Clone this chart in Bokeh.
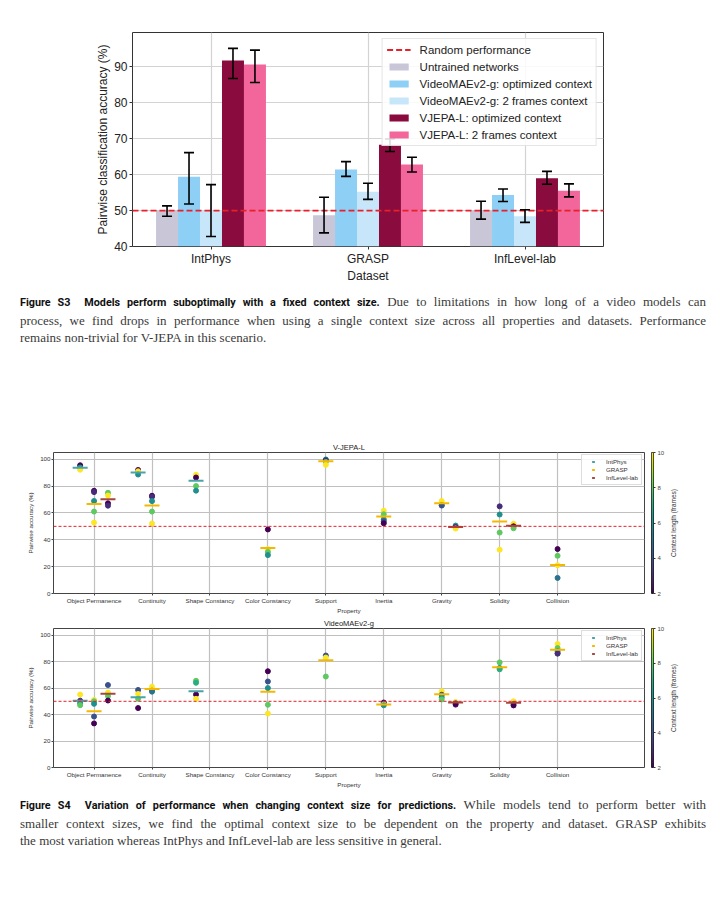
import numpy as np
from bokeh.plotting import figure
from bokeh.models import (ColumnDataSource, Whisker, TeeHead, Span, Legend, LegendItem,
                          FixedTicker, LinearColorMapper, Div, Spacer, Range1d, Title)
from bokeh.layouts import column, row
from bokeh.palettes import Viridis256
from bokeh.transform import linear_cmap
from bokeh.embed import file_html
from bokeh.resources import INLINE

# ---------------- Figure S3 data ----------------
S3_DATASETS = ["IntPhys", "GRASP", "InfLevel-lab"]
S3_SERIES = ["Untrained networks", "VideoMAEv2-g: optimized context",
             "VideoMAEv2-g: 2 frames context", "VJEPA-L: optimized context",
             "VJEPA-L: 2 frames context"]
S3_COLORS = ["#c9c6d8", "#8dcff5", "#c7e6f9", "#8a0b3d", "#f2669b"]
UNTRAINED = [50.0, 48.7, 50.1]
UNTRAINED_LO = [48.4, 43.8, 47.6]
UNTRAINED_HI = [51.3, 53.7, 52.6]
VMAE_OPT = [59.4, 61.4, 54.3]
VMAE_OPT_LO = [51.8, 59.5, 52.5]
VMAE_OPT_HI = [66.1, 63.6, 56.0]
VMAE_2F = [50.0, 55.2, 48.4]
VMAE_2F_LO = [42.8, 53.1, 46.7]
VMAE_2F_HI = [57.2, 57.6, 50.2]
VJEPA_OPT = [91.7, 68.3, 59.0]
VJEPA_OPT_LO = [86.7, 66.4, 57.3]
VJEPA_OPT_HI = [95.1, 69.9, 60.9]
VJEPA_2F = [90.6, 62.8, 55.5]
VJEPA_2F_LO = [85.6, 60.7, 53.8]
VJEPA_2F_HI = [94.6, 64.8, 57.4]
CHANCE = 50

# ---------------- Figure S4 data ----------------
PROPERTIES = ["Object Permanence", "Continuity", "Shape Constancy", "Color Constancy",
              "Support", "Inertia", "Gravity", "Solidity", "Collision"]
S4_DATASETS = ["IntPhys", "GRASP", "InfLevel-lab"]
S4_COLORS = ["#4aa3a8", "#f5b800", "#a4473c"]

# V-JEPA-L : mean per property, and (property, context length, accuracy) points
VJ_INTPHYS_PROPS = ["Object Permanence", "Continuity", "Shape Constancy"]
VJ_INTPHYS_MEAN = [93.6, 90.1, 84.0]
VJ_INTPHYS_PTS = [("Object Permanence", 2, 95.5), ("Object Permanence", 6, 93.8), ("Object Permanence", 10, 92.2),
                  ("Continuity", 2, 92.0), ("Continuity", 10, 91.0), ("Continuity", 6, 88.6),
                  ("Shape Constancy", 10, 88.4), ("Shape Constancy", 2, 86.4),
                  ("Shape Constancy", 8, 80.0), ("Shape Constancy", 6, 76.6)]
VJ_GRASP_PROPS = ["Object Permanence", "Continuity", "Color Constancy", "Support",
                  "Inertia", "Gravity", "Solidity", "Collision"]
VJ_GRASP_MEAN = [66.7, 65.5, 33.8, 98.5, 57.3, 67.2, 53.6, 21.2]
VJ_GRASP_PTS = [("Object Permanence", 2, 76.5), ("Object Permanence", 3, 75.5), ("Object Permanence", 6, 68.9),
                ("Object Permanence", 8, 61.0), ("Object Permanence", 10, 52.8),
                ("Continuity", 2, 72.8), ("Continuity", 3, 72.0), ("Continuity", 6, 68.8),
                ("Continuity", 8, 61.0), ("Continuity", 10, 52.1),
                ("Color Constancy", 2, 47.7), ("Color Constancy", 10, 33.0),
                ("Color Constancy", 8, 30.9), ("Color Constancy", 6, 28.6),
                ("Support", 6, 99.8), ("Support", 3, 99.3), ("Support", 8, 98.0), ("Support", 10, 95.8),
                ("Inertia", 10, 61.7), ("Inertia", 8, 59.0), ("Inertia", 6, 55.3),
                ("Inertia", 4, 53.8), ("Inertia", 2, 52.3),
                ("Gravity", 10, 68.9), ("Gravity", 6, 65.8), ("Gravity", 4, 65.5),
                ("Solidity", 3, 64.9), ("Solidity", 6, 58.8), ("Solidity", 8, 45.4), ("Solidity", 10, 32.6),
                ("Collision", 2, 33.1), ("Collision", 8, 28.1), ("Collision", 10, 21.0), ("Collision", 5, 11.6)]
VJ_INFLEVEL_PROPS = ["Object Permanence", "Gravity", "Solidity"]
VJ_INFLEVEL_MEAN = [70.1, 49.6, 50.4]
VJ_INFLEVEL_PTS = [("Object Permanence", 8, 75.0), ("Object Permanence", 10, 73.0),
                   ("Object Permanence", 2, 67.2), ("Object Permanence", 3, 65.4),
                   ("Gravity", 6, 50.6), ("Gravity", 3, 49.5), ("Gravity", 10, 48.4),
                   ("Solidity", 10, 51.9), ("Solidity", 2, 50.0), ("Solidity", 8, 48.6)]

# VideoMAEv2-g
VM_INTPHYS_PROPS = ["Object Permanence", "Continuity", "Shape Constancy"]
VM_INTPHYS_MEAN = [50.4, 53.1, 57.6]
VM_INTPHYS_PTS = [("Object Permanence", 10, 55.1), ("Object Permanence", 3, 50.5),
                  ("Object Permanence", 6, 48.6), ("Object Permanence", 8, 47.1),
                  ("Continuity", 4, 58.6), ("Continuity", 10, 55.6), ("Continuity", 8, 52.0),
                  ("Continuity", 2, 44.9),
                  ("Shape Constancy", 8, 65.5), ("Shape Constancy", 7, 64.0),
                  ("Shape Constancy", 2, 55.1), ("Shape Constancy", 10, 51.9)]
VM_GRASP_PROPS = ["Object Permanence", "Continuity", "Color Constancy", "Support",
                  "Inertia", "Gravity", "Solidity", "Collision"]
VM_GRASP_MEAN = [42.4, 59.3, 57.3, 81.0, 47.6, 55.3, 75.7, 89.0]
VM_GRASP_PTS = [("Object Permanence", 10, 51.0), ("Object Permanence", 8, 50.0), ("Object Permanence", 6, 48.1),
                ("Object Permanence", 4, 38.5), ("Object Permanence", 2, 33.3),
                ("Continuity", 10, 61.0), ("Continuity", 6, 58.1), ("Continuity", 5, 57.3),
                ("Color Constancy", 2, 72.7), ("Color Constancy", 4, 65.0), ("Color Constancy", 6, 60.0),
                ("Color Constancy", 8, 47.4), ("Color Constancy", 10, 40.7),
                ("Support", 4, 84.6), ("Support", 10, 83.0), ("Support", 8, 68.7),
                ("Inertia", 2, 49.1), ("Inertia", 4, 48.2), ("Inertia", 10, 47.5), ("Inertia", 6, 47.0),
                ("Gravity", 10, 57.6), ("Gravity", 4, 55.0), ("Gravity", 6, 53.0), ("Gravity", 8, 51.4),
                ("Solidity", 8, 79.4), ("Solidity", 6, 75.2), ("Solidity", 7, 74.2),
                ("Collision", 10, 93.3), ("Collision", 8, 90.2), ("Collision", 6, 87.8),
                ("Collision", 5, 86.4), ("Collision", 3, 86.0)]
VM_INFLEVEL_PROPS = ["Object Permanence", "Gravity", "Solidity"]
VM_INFLEVEL_MEAN = [55.8, 49.1, 48.9]
VM_INFLEVEL_PTS = [("Object Permanence", 4, 62.3), ("Object Permanence", 10, 56.6),
                   ("Object Permanence", 8, 54.0), ("Object Permanence", 2, 50.6),
                   ("Gravity", 10, 49.5), ("Gravity", 4, 48.5), ("Gravity", 2, 47.5),
                   ("Solidity", 10, 50.0), ("Solidity", 4, 48.0), ("Solidity", 2, 46.9)]

CTX_LOW, CTX_HIGH = 2, 10
CTX_TICKS = [2, 4, 6, 8, 10]

FONT = "Liberation Sans"
PAGE_W = 711

# ================= Figure S3 =================
p1 = figure(width=PAGE_W, height=290, x_range=Range1d(-0.5, 2.5), y_range=Range1d(40, 99.5),
            output_backend="svg", toolbar_location=None,
            min_border_left=132, min_border_right=108, min_border_top=32, min_border_bottom=44)
p1.outline_line_color = "#333333"
p1.outline_line_width = 1
for g in (p1.xgrid, p1.ygrid):
    g.grid_line_color = "#d3d3d3"
    g.grid_line_width = 1.2
p1.xaxis.ticker = FixedTicker(ticks=[0, 1, 2])
p1.xgrid.ticker = FixedTicker(ticks=[0, 1, 2])
p1.xaxis.major_label_overrides = {i: d for i, d in enumerate(S3_DATASETS)}
p1.yaxis.ticker = FixedTicker(ticks=[40, 50, 60, 70, 80, 90])
p1.ygrid.ticker = FixedTicker(ticks=[40, 50, 60, 70, 80, 90])
for ax in (p1.xaxis[0], p1.yaxis[0]):
    ax.axis_line_color = None
    ax.major_tick_in = 0
    ax.major_tick_out = 3
    ax.major_tick_line_color = "#333333"
    ax.minor_tick_line_color = None
    ax.major_label_text_font = FONT
    ax.major_label_text_font_size = "12px"
    ax.major_label_text_color = "#222222"
    ax.major_label_text_line_height = 1.0
    ax.axis_label_text_font = FONT
    ax.axis_label_text_font_size = "12px"
    ax.axis_label_text_font_style = "normal"
    ax.axis_label_text_color = "#222222"
    ax.axis_label_text_line_height = 1.0
    ax.major_label_standoff = 2
p1.xaxis.axis_label = "Dataset"
p1.yaxis.axis_label = "Pairwise classification accuracy (%)"
p1.xaxis.axis_label_standoff = 0
p1.yaxis.axis_label_standoff = 1

series_vals = [UNTRAINED, VMAE_OPT, VMAE_2F, VJEPA_OPT, VJEPA_2F]
series_lo = [UNTRAINED_LO, VMAE_OPT_LO, VMAE_2F_LO, VJEPA_OPT_LO, VJEPA_2F_LO]
series_hi = [UNTRAINED_HI, VMAE_OPT_HI, VMAE_2F_HI, VJEPA_OPT_HI, VJEPA_2F_HI]
bar_w = 0.14
bar_renderers = []
whisk_sources = []
for i, (vals, lo, hi) in enumerate(zip(series_vals, series_lo, series_hi)):
    xs = np.arange(len(S3_DATASETS)) + (i - 2) * bar_w
    src = ColumnDataSource(dict(x=xs, top=vals, lo=lo, hi=hi))
    r = p1.vbar(x="x", top="top", bottom=0, width=bar_w, source=src,
                fill_color=S3_COLORS[i], line_color=None)
    bar_renderers.append(r)
    whisk_sources.append(src)
rand = p1.line(x=[p1.x_range.start, p1.x_range.end], y=[CHANCE, CHANCE],
               line_color="#e8202a", line_width=1.8, line_dash="6 3")
for src in whisk_sources:
    w = Whisker(source=src, base="x", lower="lo", upper="hi",
                line_color="black", line_width=1.6, level="overlay",
                upper_head=TeeHead(size=10, line_color="black", line_width=1.6),
                lower_head=TeeHead(size=10, line_color="black", line_width=1.6))
    p1.add_layout(w)
items = [LegendItem(label="Random performance", renderers=[rand])]
items += [LegendItem(label=s, renderers=[r]) for s, r in zip(S3_SERIES, bar_renderers)]
leg1 = Legend(items=items, location="top_right")
leg1.label_text_font = FONT
leg1.label_text_font_size = "11.5px"
leg1.label_text_color = "#222222"
leg1.glyph_width = 24
leg1.glyph_height = 9
leg1.label_height = 13
leg1.label_standoff = 9
leg1.spacing = 4
leg1.padding = 4
leg1.margin = 6
leg1.border_line_color = "#cccccc"
leg1.border_line_width = 1
leg1.background_fill_alpha = 0.85
leg1.level = "overlay"
p1.add_layout(leg1)

# ================= Figure S4 =================
DS_OFFSET = {"IntPhys": -0.24, "GRASP": 0.0, "InfLevel-lab": 0.24}
cmap = linear_cmap("ctx", Viridis256, CTX_LOW, CTX_HIGH)


def panel(title, groups, top_border, bottom_border, frame_h):
    h = top_border + frame_h + bottom_border
    p = figure(width=645, height=h, x_range=Range1d(-0.7, 9.5), y_range=Range1d(0, 105),
               output_backend="svg", toolbar_location=None, title=title,
               min_border_left=53, min_border_right=1,
               min_border_top=top_border, min_border_bottom=bottom_border)
    p.title.align = "center"
    p.title.text_font = FONT
    p.title.text_font_size = "7.5px"
    p.title.text_font_style = "normal"
    p.title.text_color = "#222222"
    p.title.standoff = 1
    p.outline_line_color = "#444444"
    p.outline_line_width = 1
    ticks = list(range(len(PROPERTIES)))
    p.xaxis.ticker = FixedTicker(ticks=ticks)
    p.xgrid.ticker = FixedTicker(ticks=ticks)
    p.xaxis.major_label_overrides = {i: n for i, n in enumerate(PROPERTIES)}
    p.yaxis.ticker = FixedTicker(ticks=[0, 20, 40, 60, 80, 100])
    p.ygrid.ticker = FixedTicker(ticks=[0, 20, 40, 60, 80, 100])
    for g in (p.xgrid, p.ygrid):
        g.grid_line_color = "#c0c0c0"
        g.grid_line_width = 1.2
    for ax in (p.xaxis[0], p.yaxis[0]):
        ax.axis_line_color = None
        ax.major_tick_in = 0
        ax.major_tick_out = 2
        ax.major_tick_line_color = "#444444"
        ax.minor_tick_line_color = None
        ax.major_label_text_font = FONT
        ax.major_label_text_font_size = "6.2px"
        ax.major_label_text_color = "#333333"
        ax.major_label_text_line_height = 1.0
        ax.axis_label_text_font = FONT
        ax.axis_label_text_font_size = "6.2px"
        ax.axis_label_text_font_style = "normal"
        ax.axis_label_text_color = "#333333"
        ax.axis_label_text_line_height = 1.0
        ax.major_label_standoff = 1
        ax.axis_label_standoff = 0
    p.xaxis.axis_label = "Property"
    p.yaxis.axis_label = "Pairwise accuracy (%)"
    p.yaxis.axis_label_standoff = 3
    p.add_layout(Span(location=CHANCE, dimension="width", line_color="#e8202a",
                      line_width=1, line_dash="3 2"))
    leg_items = []
    for ds, color, (props, means, pts) in zip(S4_DATASETS, S4_COLORS, groups):
        pts_x = [PROPERTIES.index(pr) + DS_OFFSET[ds] for pr, _, _ in pts]
        src = ColumnDataSource(dict(x=pts_x, y=[v for _, _, v in pts], ctx=[c for _, c, _ in pts]))
        p.scatter(x="x", y="y", source=src, size=5, fill_color=cmap, line_color=cmap)
    for ds, color, (props, means, pts) in zip(S4_DATASETS, S4_COLORS, groups):
        mx = [PROPERTIES.index(pr) + DS_OFFSET[ds] for pr in props]
        r = p.scatter(x=mx, y=means, marker="dash", size=15, line_color=color, line_width=2)
        leg_items.append(LegendItem(label=ds, renderers=[r]))
    leg = Legend(items=leg_items, location="top_right")
    leg.label_text_font = FONT
    leg.label_text_font_size = "6.2px"
    leg.label_text_color = "#333333"
    leg.glyph_width = 16
    leg.glyph_height = 7
    leg.label_height = 7
    leg.label_standoff = 5
    leg.spacing = 1
    leg.padding = 3
    leg.margin = 2
    leg.border_line_color = "#bbbbbb"
    leg.background_fill_alpha = 0.85
    p.add_layout(leg)

    cb = figure(width=22, height=h, x_range=Range1d(0, 1), y_range=Range1d(CTX_LOW, CTX_HIGH),
                output_backend="svg", toolbar_location=None, y_axis_location="right",
                x_axis_location=None, min_border_left=6, min_border_right=9,
                min_border_top=top_border, min_border_bottom=bottom_border)
    mapper = LinearColorMapper(palette=Viridis256, low=CTX_LOW, high=CTX_HIGH)
    grad = np.linspace(CTX_LOW, CTX_HIGH, 256).reshape(256, 1)
    cb.image(image=[grad], x=0, y=CTX_LOW, dw=1, dh=CTX_HIGH - CTX_LOW, color_mapper=mapper)
    cb.xgrid.visible = False
    cb.ygrid.visible = False
    cb.outline_line_color = "#222222"
    ay = cb.yaxis[0]
    ay.ticker = FixedTicker(ticks=CTX_TICKS)
    ay.axis_line_color = None
    ay.major_tick_in = 0
    ay.major_tick_out = 2
    ay.major_tick_line_color = "#333333"
    ay.minor_tick_line_color = None
    ay.major_label_text_font = FONT
    ay.major_label_text_font_size = "6px"
    ay.major_label_standoff = 2

    lab = figure(width=14, height=h, x_range=Range1d(0, 1), y_range=Range1d(0, 1),
                 output_backend="svg", toolbar_location=None, x_axis_location=None,
                 y_axis_location=None, min_border_left=0, min_border_right=0,
                 min_border_top=top_border, min_border_bottom=bottom_border)
    lab.outline_line_color = None
    lab.xgrid.visible = False
    lab.ygrid.visible = False
    lab.add_layout(Title(text="Context length (frames)", align="center", text_font=FONT,
                         text_font_size="6.5px", text_font_style="normal",
                         text_color="#333333", standoff=0), "left")
    return row(p, cb, lab)


vj_groups = [(VJ_INTPHYS_PROPS, VJ_INTPHYS_MEAN, VJ_INTPHYS_PTS),
             (VJ_GRASP_PROPS, VJ_GRASP_MEAN, VJ_GRASP_PTS),
             (VJ_INFLEVEL_PROPS, VJ_INFLEVEL_MEAN, VJ_INFLEVEL_PTS)]
vm_groups = [(VM_INTPHYS_PROPS, VM_INTPHYS_MEAN, VM_INTPHYS_PTS),
             (VM_GRASP_PROPS, VM_GRASP_MEAN, VM_GRASP_PTS),
             (VM_INFLEVEL_PROPS, VM_INFLEVEL_MEAN, VM_INFLEVEL_PTS)]
row1 = panel("V-JEPA-L", vj_groups, 16, 22, 142)
row2 = panel("VideoMAEv2-g", vm_groups, 11, 22, 141)


# ================= Captions =================
def caption(bold, lines, h, pad_top):
    body = ("<div style=\"box-sizing:border-box;padding:%dpx 0 0 20px;width:706px;"
            "font-family:'Liberation Serif';font-size:13px;line-height:17.5px;color:#3a3a3a;\">"
            % pad_top)
    for i, ln in enumerate(lines):
        last = i == len(lines) - 1
        style = "text-align:left;" if last else "text-align:justify;text-align-last:justify;"
        prefix = ""
        if i == 0:
            prefix = ("<span style=\"font-family:Roboto;font-weight:700;font-size:10.8px;"
                      "color:#111;\">%s</span> " % bold)
        body += "<div style=\"%s\">%s%s</div>" % (style, prefix, ln)
    body += "</div>"
    return Div(text=body, width=PAGE_W, height=h, margin=0)


cap3 = caption("Figure S3&nbsp;&nbsp;Models perform suboptimally with a fixed context size.",
               ["Due to limitations in how long of a video models can",
                "process, we find drops in performance when using a single context size across all properties and datasets. Performance",
                "remains non-trivial for V-JEPA in this scenario."], 58, 3)
cap4 = caption("Figure S4&nbsp;&nbsp;Variation of performance when changing context size for predictions.",
               ["While models tend to perform better with",
                "smaller context sizes, we find the optimal context size to be dependent on the property and dataset. GRASP exhibits",
                "the most variation whereas IntPhys and InfLevel-lab are less sensitive in general."], 62, 6)

layout = column(p1, cap3, Spacer(width=PAGE_W, height=88, margin=0), row1, row2, cap4)
open("out.html", "w").write(file_html(layout, INLINE))
